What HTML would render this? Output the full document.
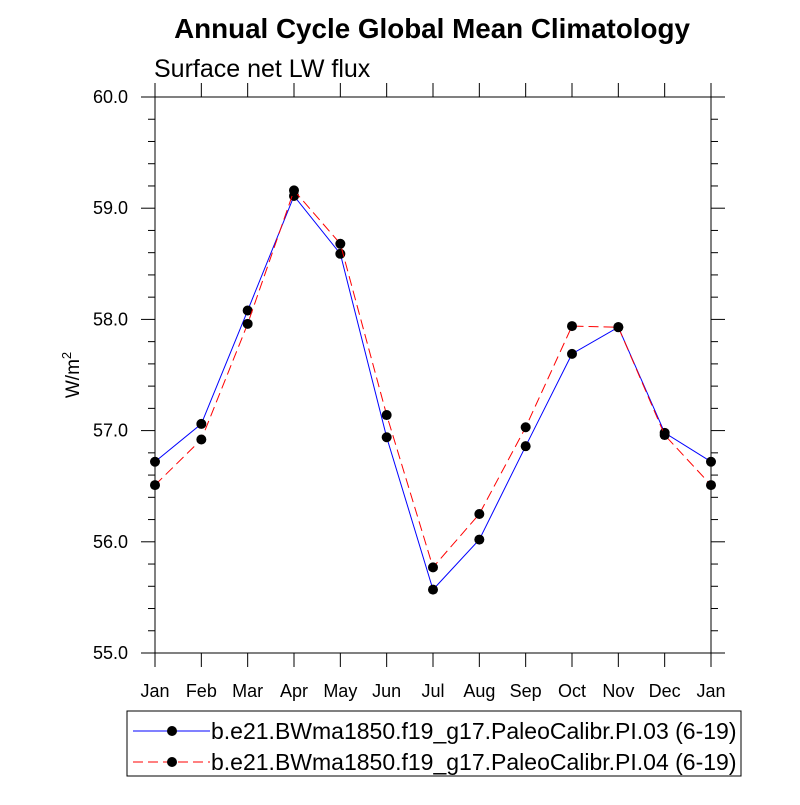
<!DOCTYPE html>
<html><head><meta charset="utf-8"><style>
body{margin:0;background:#fff;}
svg text{font-family:"Liberation Sans",Arial,sans-serif;fill:#000;}
</style></head><body>
<svg id="chart" width="800" height="800" xmlns="http://www.w3.org/2000/svg">
<rect width="800" height="800" fill="#fff"/>
<text x="432" y="38" font-size="27.8" font-weight="bold" text-anchor="middle">Annual Cycle Global Mean Climatology</text>
<text x="154" y="77" font-size="25">Surface net LW flux</text>
<text transform="translate(79,375) rotate(-90)" font-size="19" text-anchor="middle">W/m<tspan dy="-8" font-size="13">2</tspan></text>
<g id="axes"></g>
<g id="series"></g>
<g>
<rect x="127" y="711" width="614" height="65" fill="none" stroke="#000" stroke-width="1"/>
<g>
<line x1="133" y1="731" x2="210" y2="731" stroke="#0000ff" stroke-width="1"/>
<circle cx="172" cy="731" r="5" fill="#000"/>
<text x="211" y="739" font-size="23">b.e21.BWma1850.f19_g17.PaleoCalibr.PI.03 (6-19)</text>
</g>
<g>
<line x1="133" y1="762" x2="210" y2="762" stroke="#ff0000" stroke-width="1" stroke-dasharray="10,5"/>
<circle cx="172" cy="762" r="5" fill="#000"/>
<text x="211" y="770" font-size="23">b.e21.BWma1850.f19_g17.PaleoCalibr.PI.04 (6-19)</text>
</g>
</g>
</svg>
<script>
const months = ["Jan","Feb","Mar","Apr","May","Jun","Jul","Aug","Sep","Oct","Nov","Dec","Jan"];
const seriesPI03 = [56.72,57.06,58.08,59.11,58.59,56.94,55.57,56.02,56.86,57.69,57.93,56.98,56.72];
const seriesPI04 = [56.51,56.92,57.96,59.16,58.68,57.14,55.77,56.25,57.03,57.94,57.93,56.96,56.51];
const yTicks = [55.0,56.0,57.0,58.0,59.0,60.0];
const yTickLabels = ["55.0","56.0","57.0","58.0","59.0","60.0"];

const NS="http://www.w3.org/2000/svg";
const X0=155,X1=711,Y0=97,Y1=653,YMIN=55,YMAX=60;
const xs=i=>X0+(X1-X0)*i/(months.length-1);
const ys=v=>Y1-(v-YMIN)/(YMAX-YMIN)*(Y1-Y0);
function mk(tag,attrs,parent){const e=document.createElementNS(NS,tag);for(const k in attrs)e.setAttribute(k,attrs[k]);parent.appendChild(e);return e;}
const axes=document.getElementById('axes');
const frame=mk('rect',{x:X0,y:Y0,width:X1-X0,height:Y1-Y0,fill:'none',stroke:'#000','stroke-width':1},axes);


for(let v=YMIN;v<=YMAX+1e-9;v+=0.2){
  const y=ys(v);const major=Math.abs(v-Math.round(v))<1e-6;const L=major?14:7;
  mk('line',{x1:X0-L,y1:y,x2:X0,y2:y,stroke:'#000'},axes);
  mk('line',{x1:X1,y1:y,x2:X1+L,y2:y,stroke:'#000'},axes);
}
yTicks.forEach((v,i)=>{
  const t=mk('text',{x:X0-27,y:ys(v)+6,'font-size':18,'text-anchor':'end'},axes);
  t.textContent=yTickLabels[i];
  
  
});
months.forEach((m,i)=>{
  const x=xs(i);
  mk('line',{x1:x,y1:Y1,x2:x,y2:Y1+14,stroke:'#000'},axes);
  mk('line',{x1:x,y1:Y0-14,x2:x,y2:Y0,stroke:'#000'},axes);
  const t=mk('text',{x:x,y:Y1+44,'font-size':18,'text-anchor':'middle'},axes);
  t.textContent=m;
  
  
});
const sg=document.getElementById('series');
function drawSeries(vals,color,dash,name){
  const g=mk('g',{},sg);
  
  
  const attrs={points:vals.map((v,i)=>xs(i)+','+ys(v)).join(' '),fill:'none',stroke:color,'stroke-width':1};
  if(dash)attrs['stroke-dasharray']=dash;
  const pl=mk('polyline',attrs,g);
  
  
  vals.forEach((v,i)=>{
    const c=mk('circle',{cx:xs(i),cy:ys(v),r:5,fill:'#000'},g);
    
    
  });
}
drawSeries(seriesPI03,'#0000ff',null,'series-pi03');
drawSeries(seriesPI04,'#ff0000','10,5','series-pi04');
</script>
</body></html>
